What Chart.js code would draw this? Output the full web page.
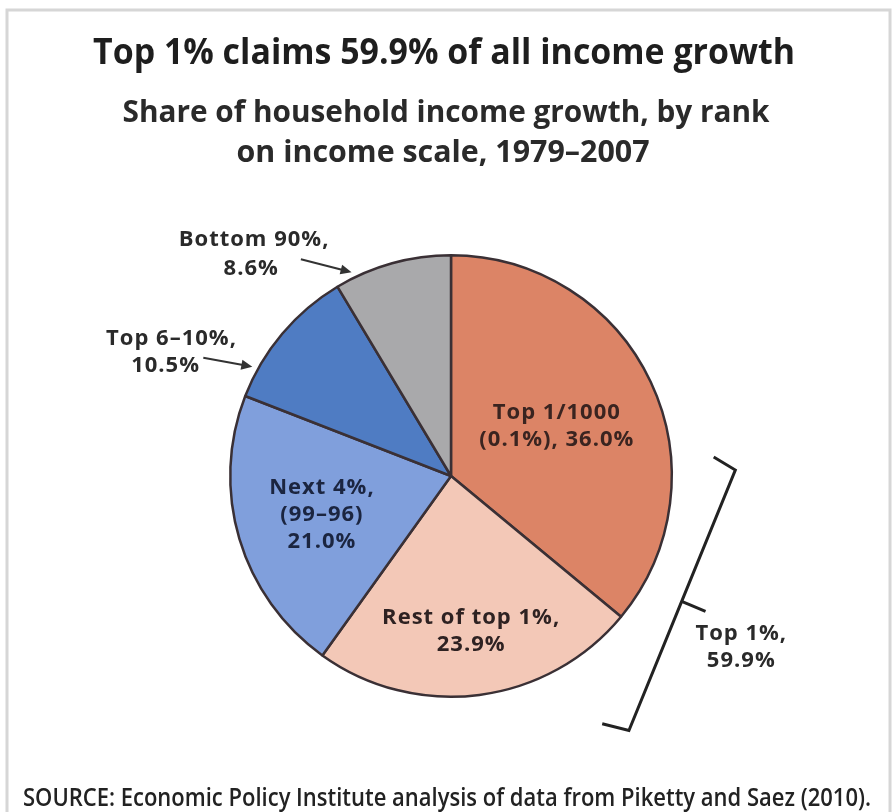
<!DOCTYPE html>
<html>
<head>
<meta charset="utf-8">
<script src="https://cdn.jsdelivr.net/npm/chart.js@4.4.1/dist/chart.umd.min.js"></script>
<style>
  html, body { margin: 0; padding: 0; background: #fff; }
  canvas { display: block; }
</style>
</head>
<body>
<canvas id="graficoPizza" width="893" height="812"></canvas>
<script>
// dados do grafico
var categorias = ['Top 1/1000 (0.1%)', 'Rest of top 1%', 'Next 4% (99–96)', 'Top 6–10%', 'Bottom 90%'];
var valores = [36.0, 23.9, 21.0, 10.5, 8.6];
var cores = ['#dc8466', '#f3c8b7', '#809fdc', '#4f7cc3', '#a9a9ab'];
var rotulos = [
    ['Top 1/1000', '(0.1%), 36.0%'],
    ['Rest of top 1%,', '23.9%'],
    ['Next 4%,', '(99–96)', '21.0%'],
    ['Top 6–10%,', '10.5%'],
    ['Bottom 90%,', '8.6%']
];
var coresRotulo = ['#3a2420', '#2e2222', '#1b2540', '#2a2a2a', '#2a2a2a'];
var titulo = 'Top 1% claims 59.9% of all income growth';
var subtitulo = ['Share of household income growth, by rank', 'on income scale, 1979–2007'];
var fonte = 'SOURCE: Economic Policy Institute analysis of data from Piketty and Saez (2010).';
var grupoTopo = ['Top 1%,', '59.9%'];

var FAMILIA = '"Open Sans", "DejaVu Sans", sans-serif';

// escreve texto; se largura for dada, comprime na horizontal ate caber
function escreve(ctx, texto, x, y, tamanho, peso, cor, largura, alinhamento, base, espaco) {
    ctx.save();
    ctx.font = peso + ' ' + tamanho + 'px ' + FAMILIA;
    ctx.fillStyle = cor;
    ctx.textBaseline = base || 'alphabetic';
    ctx.textAlign = alinhamento || 'center';
    if (espaco) ctx.letterSpacing = espaco;
    var sx = 1;
    if (largura) {
        sx = largura / ctx.measureText(texto).width;
    }
    ctx.translate(x, y);
    ctx.scale(sx, 1);
    ctx.fillText(texto, 0, 0);
    ctx.restore();
}

function seta(ctx, x1, y1, x2, y2) {
    var ang = Math.atan2(y2 - y1, x2 - x1);
    ctx.save();
    ctx.strokeStyle = '#333';
    ctx.fillStyle = '#333';
    ctx.lineWidth = 2;
    ctx.beginPath();
    ctx.moveTo(x1, y1);
    ctx.lineTo(x2 - 8 * Math.cos(ang), y2 - 8 * Math.sin(ang));
    ctx.stroke();
    ctx.beginPath();
    ctx.moveTo(x2, y2);
    ctx.lineTo(x2 - 11 * Math.cos(ang) + 5 * Math.sin(ang), y2 - 11 * Math.sin(ang) - 5 * Math.cos(ang));
    ctx.lineTo(x2 - 11 * Math.cos(ang) - 5 * Math.sin(ang), y2 - 11 * Math.sin(ang) + 5 * Math.cos(ang));
    ctx.closePath();
    ctx.fill();
    ctx.restore();
}

var moldura = {
    id: 'moldura',
    beforeDraw: function (chart) {
        var ctx = chart.ctx;
        ctx.save();
        ctx.fillStyle = '#fff';
        ctx.fillRect(0, 0, chart.width, chart.height);
        ctx.strokeStyle = '#d6d6d6';
        ctx.lineWidth = 3;
        ctx.strokeRect(7, 10, 883, 830);
        ctx.restore();
    }
};

var anotacoes = {
    id: 'anotacoes',
    afterDraw: function (chart) {
        var ctx = chart.ctx;
        var arcos = chart.getDatasetMeta(0).data;
        var cx = arcos[0].x, cy = arcos[0].y, r = arcos[0].outerRadius;

        // titulos
        escreve(ctx, titulo, 444, 64, 36, 'bold', '#1e1e1e', 702);
        escreve(ctx, subtitulo[0], 446, 122, 30, 'bold', '#2a2a2a', 647);
        escreve(ctx, subtitulo[1], 443, 162, 30, 'bold', '#2a2a2a', 413);
        escreve(ctx, fonte, 23, 806, 26, '600', '#222', 848, 'left');

        // rotulos dentro das fatias
        var raioRel = [0.53, 0.71, 0.61];
        for (var i = 0; i < 3; i++) {
            var a = (arcos[i].startAngle + arcos[i].endAngle) / 2;
            var px = cx + Math.cos(a) * r * raioRel[i];
            var py = cy + Math.sin(a) * r * raioRel[i];
            var n = rotulos[i].length;
            for (var j = 0; j < n; j++) {
                escreve(ctx, rotulos[i][j], px, py + (j - (n - 1) / 2) * 27, 22, 'bold', coresRotulo[i], null, 'center', 'middle', '1px');
            }
        }

        // rotulos de fora com setas
        var fora = [
            { i: 3, linhas: [[-1.266, -0.622], [-1.293, -0.50]], origem: [-1.122, -0.536], f: 0.2 },
            { i: 4, linhas: [[-0.892, -1.072], [-0.905, -0.941]], origem: [-0.68, -0.982], f: 0.16 }
        ];
        fora.forEach(function (o) {
            var arco = arcos[o.i];
            o.linhas.forEach(function (p, j) {
                escreve(ctx, rotulos[o.i][j], cx + p[0] * r, cy + p[1] * r, 22, 'bold', coresRotulo[o.i], null, 'center', 'middle', '1px');
            });
            var a = arco.startAngle + o.f * (arco.endAngle - arco.startAngle);
            seta(ctx, cx + o.origem[0] * r, cy + o.origem[1] * r,
                cx + Math.cos(a) * (r + 6), cy + Math.sin(a) * (r + 6));
        });

        // chave do top 1%
        var pts = [[1.19, -0.086], [1.288, -0.027], [1.045, 0.568], [0.806, 1.153], [0.685, 1.122]];
        ctx.save();
        ctx.strokeStyle = '#222';
        ctx.lineWidth = 3;
        ctx.lineJoin = 'miter';
        ctx.beginPath();
        pts.forEach(function (p, k) {
            if (k === 0) ctx.moveTo(cx + p[0] * r, cy + p[1] * r);
            else ctx.lineTo(cx + p[0] * r, cy + p[1] * r);
        });
        ctx.stroke();
        ctx.beginPath();
        ctx.moveTo(cx + 1.045 * r, cy + 0.568 * r);
        ctx.lineTo(cx + 1.153 * r, cy + 0.613 * r);
        ctx.stroke();
        ctx.restore();
        escreve(ctx, grupoTopo[0], cx + 1.315 * r, cy + 0.716 * r, 22, 'bold', '#2a2a2a', null, 'center', 'middle', '1px');
        escreve(ctx, grupoTopo[1], cx + 1.315 * r, cy + 0.838 * r, 22, 'bold', '#2a2a2a', null, 'center', 'middle', '1px');
    }
};

var contexto = document.getElementById('graficoPizza').getContext('2d');
var grafico = new Chart(contexto, {
    type: 'pie',
    data: {
        labels: categorias,
        datasets: [{
            data: valores,
            backgroundColor: cores,
            borderColor: '#3a3035',
            borderWidth: 2.5
        }]
    },
    options: {
        responsive: false,
        animation: false,
        layout: { padding: { left: 229, right: 220, top: 254, bottom: 114 } },
        plugins: {
            legend: { display: false },
            tooltip: { enabled: false }
        }
    },
    plugins: [moldura, anotacoes]
});
</script>
</body>
</html>
